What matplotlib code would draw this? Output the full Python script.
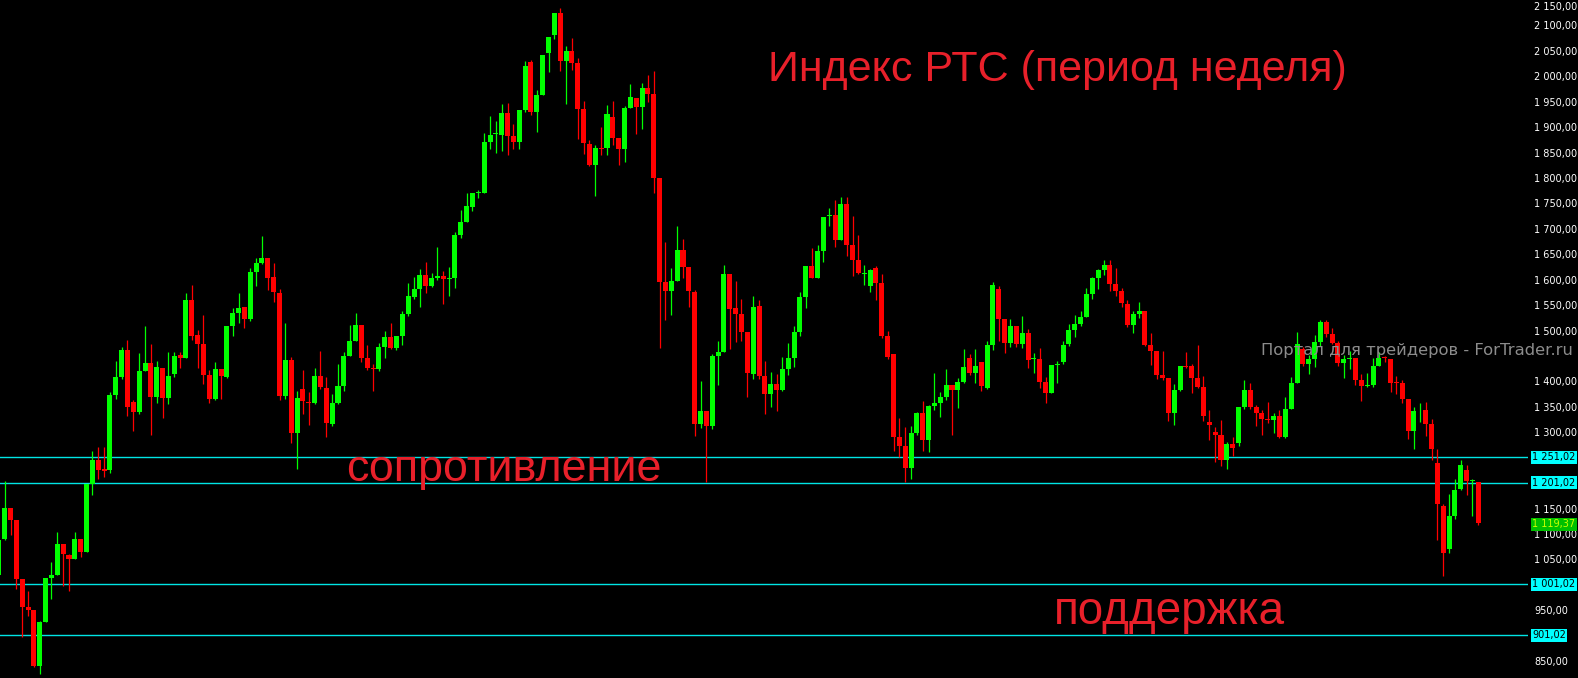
import numpy as np
import matplotlib
matplotlib.use("Agg")
import matplotlib.pyplot as plt

# weekly RTS candles (open, high, low, close)
opens = [1020, 1090, 1151, 1128, 1012, 957, 951, 840, 927, 1014,
         1020, 1081, 1059, 1051, 1090, 1065, 1199, 1246, 1228, 1226,
         1373, 1408, 1462, 1360, 1339, 1421, 1436, 1370, 1427, 1368,
         1414, 1452, 1447, 1560, 1491, 1474, 1413, 1366, 1425, 1409,
         1510, 1535, 1547, 1523, 1616, 1633, 1643, 1605, 1574, 1372,
         1442, 1299, 1385, 1360, 1358, 1411, 1387, 1317, 1358, 1391,
         1451, 1480, 1511, 1447, 1426, 1424, 1468, 1488, 1466, 1490,
         1533, 1566, 1582, 1609, 1588, 1604, 1607, 1602, 1604, 1688,
         1714, 1743, 1771, 1771, 1871, 1886, 1885, 1928, 1883, 1870,
         1934, 2028, 1930, 1963, 2045, 2082, 2124, 2031, 2050, 2026,
         1936, 1867, 1826, 1860, 1860, 1920, 1879, 1857, 1938, 1957,
         1940, 1977, 1965, 1800, 1596, 1577, 1598, 1659, 1625, 1576,
         1317, 1342, 1313, 1450, 1458, 1611, 1545, 1533, 1497, 1415,
         1549, 1411, 1376, 1395, 1383, 1425, 1446, 1497, 1566, 1627,
         1604, 1657, 1725, 1727, 1678, 1749, 1668, 1639, 1612, 1588,
         1623, 1594, 1489, 1454, 1291, 1273, 1229, 1299, 1338, 1284,
         1352, 1358, 1370, 1393, 1384, 1399, 1446, 1417, 1438, 1387,
         1472, 1582, 1523, 1476, 1509, 1474, 1495, 1444, 1444, 1399,
         1377, 1433, 1438, 1474, 1501, 1513, 1527, 1572, 1604, 1619,
         1629, 1592, 1578, 1552, 1511, 1533, 1539, 1472, 1460, 1413,
         1407, 1338, 1383, 1430, 1431, 1407, 1389, 1320, 1301, 1295,
         1246, 1277, 1279, 1350, 1383, 1350, 1338, 1327, 1324, 1332,
         1291, 1346, 1397, 1464, 1434, 1444, 1478, 1517, 1493, 1476,
         1436, 1445, 1446, 1403, 1392, 1393, 1431, 1447, 1444, 1398,
         1397, 1366, 1303, 1343, 1344, 1316, 1240, 1155, 1071, 1136,
         1189, 1226, 1204, 1202, 1119]
highs = [1095, 1204, 1151, 1128, 1012, 988, 951, 929, 1014, 1045,
         1104, 1081, 1061, 1104, 1090, 1199, 1263, 1271, 1271, 1380,
         1440, 1467, 1482, 1364, 1456, 1509, 1474, 1440, 1427, 1458,
         1458, 1458, 1574, 1590, 1501, 1531, 1423, 1438, 1425, 1509,
         1545, 1574, 1547, 1623, 1643, 1686, 1643, 1633, 1582, 1515,
         1448, 1381, 1423, 1379, 1427, 1460, 1409, 1375, 1434, 1458,
         1511, 1535, 1511, 1472, 1434, 1475, 1499, 1515, 1489, 1539,
         1594, 1606, 1621, 1635, 1613, 1665, 1617, 1625, 1694, 1737,
         1771, 1771, 1777, 1889, 1922, 1912, 1946, 1948, 1906, 1934,
         2030, 2032, 1973, 2042, 2077, 2124, 2134, 2060, 2075, 2036,
         1952, 1875, 1865, 1900, 1944, 1952, 1879, 1942, 1985, 1957,
         1987, 2003, 2010, 1800, 1674, 1623, 1706, 1680, 1625, 1580,
         1401, 1342, 1454, 1480, 1629, 1611, 1598, 1562, 1497, 1568,
         1560, 1440, 1419, 1415, 1448, 1476, 1509, 1576, 1627, 1663,
         1668, 1723, 1741, 1757, 1763, 1763, 1725, 1688, 1629, 1621,
         1627, 1611, 1499, 1454, 1328, 1311, 1313, 1340, 1362, 1354,
         1417, 1379, 1425, 1393, 1407, 1464, 1454, 1464, 1438, 1480,
         1596, 1588, 1523, 1523, 1509, 1529, 1503, 1456, 1466, 1409,
         1432, 1440, 1480, 1513, 1531, 1539, 1584, 1606, 1621, 1639,
         1639, 1623, 1584, 1560, 1539, 1556, 1539, 1495, 1460, 1460,
         1407, 1395, 1431, 1458, 1434, 1472, 1411, 1344, 1311, 1324,
         1281, 1291, 1350, 1403, 1397, 1354, 1344, 1360, 1338, 1344,
         1370, 1409, 1497, 1468, 1452, 1491, 1521, 1521, 1505, 1480,
         1452, 1460, 1446, 1415, 1417, 1446, 1458, 1450, 1444, 1411,
         1403, 1366, 1350, 1358, 1360, 1326, 1267, 1159, 1179, 1208,
         1246, 1236, 1208, 1202, 1120]
lows = [1010, 1088, 1098, 992, 898, 939, 838, 824, 927, 972,
        1020, 998, 988, 1051, 1055, 1065, 1177, 1208, 1212, 1220,
        1365, 1405, 1333, 1303, 1337, 1420, 1295, 1358, 1329, 1356,
        1408, 1427, 1447, 1482, 1427, 1396, 1358, 1364, 1366, 1406,
        1490, 1514, 1506, 1518, 1588, 1631, 1579, 1557, 1364, 1366,
        1280, 1227, 1336, 1315, 1356, 1385, 1290, 1313, 1356, 1382,
        1450, 1480, 1439, 1423, 1382, 1420, 1447, 1464, 1461, 1472,
        1529, 1562, 1547, 1574, 1586, 1600, 1553, 1568, 1584, 1682,
        1714, 1736, 1761, 1771, 1857, 1850, 1854, 1846, 1858, 1858,
        1930, 1923, 1891, 1963, 2009, 2074, 2011, 1946, 2013, 1877,
        1848, 1823, 1764, 1846, 1846, 1864, 1825, 1832, 1938, 1887,
        1897, 1950, 1771, 1465, 1520, 1531, 1598, 1604, 1547, 1292,
        1309, 1203, 1307, 1394, 1458, 1463, 1478, 1480, 1370, 1405,
        1405, 1336, 1350, 1342, 1381, 1413, 1429, 1490, 1545, 1604,
        1604, 1635, 1706, 1664, 1678, 1647, 1608, 1611, 1590, 1576,
        1561, 1486, 1445, 1264, 1252, 1203, 1209, 1294, 1264, 1262,
        1343, 1331, 1364, 1294, 1347, 1397, 1413, 1397, 1382, 1385,
        1461, 1480, 1456, 1468, 1468, 1466, 1427, 1417, 1387, 1358,
        1377, 1397, 1434, 1470, 1488, 1509, 1527, 1562, 1582, 1609,
        1578, 1568, 1547, 1508, 1496, 1525, 1470, 1432, 1405, 1403,
        1322, 1315, 1381, 1427, 1377, 1387, 1322, 1285, 1242, 1234,
        1228, 1254, 1273, 1346, 1346, 1313, 1295, 1318, 1299, 1289,
        1289, 1346, 1397, 1431, 1415, 1429, 1470, 1488, 1474, 1431,
        1407, 1425, 1393, 1362, 1389, 1389, 1431, 1438, 1379, 1375,
        1358, 1287, 1267, 1320, 1293, 1246, 1088, 1018, 1063, 1130,
        1187, 1177, 1136, 1118, 1119]
closes = [1088, 1151, 1128, 1012, 957, 951, 840, 927, 1014, 1020,
          1081, 1061, 1051, 1090, 1065, 1199, 1246, 1226, 1224, 1373,
          1408, 1462, 1350, 1339, 1421, 1436, 1370, 1429, 1368, 1411,
          1450, 1447, 1560, 1490, 1474, 1413, 1366, 1425, 1411, 1509,
          1535, 1545, 1522, 1615, 1633, 1643, 1604, 1575, 1372, 1442,
          1299, 1368, 1362, 1358, 1411, 1389, 1319, 1358, 1391, 1450,
          1480, 1511, 1447, 1427, 1424, 1468, 1488, 1466, 1489, 1533,
          1568, 1582, 1609, 1588, 1604, 1607, 1602, 1604, 1688, 1714,
          1745, 1771, 1772, 1871, 1885, 1888, 1928, 1883, 1870, 1934,
          2021, 1930, 1963, 2042, 2077, 2124, 2031, 2050, 2027, 1936,
          1868, 1826, 1859, 1858, 1926, 1879, 1858, 1938, 1959, 1940,
          1977, 1965, 1801, 1596, 1577, 1598, 1659, 1626, 1577, 1317,
          1342, 1313, 1450, 1458, 1611, 1543, 1533, 1498, 1416, 1547,
          1411, 1376, 1395, 1383, 1425, 1446, 1497, 1566, 1627, 1604,
          1657, 1723, 1727, 1678, 1749, 1668, 1639, 1613, 1614, 1619,
          1594, 1490, 1449, 1291, 1274, 1229, 1299, 1338, 1284, 1352,
          1358, 1370, 1393, 1384, 1399, 1429, 1417, 1431, 1392, 1472,
          1590, 1523, 1476, 1509, 1474, 1495, 1442, 1445, 1399, 1377,
          1432, 1435, 1472, 1501, 1513, 1527, 1572, 1604, 1619, 1629,
          1592, 1578, 1554, 1511, 1533, 1539, 1472, 1460, 1413, 1407,
          1338, 1383, 1431, 1429, 1407, 1389, 1332, 1315, 1295, 1246,
          1277, 1269, 1350, 1383, 1350, 1338, 1326, 1325, 1332, 1291,
          1346, 1397, 1474, 1434, 1444, 1478, 1517, 1493, 1476, 1436,
          1444, 1447, 1403, 1391, 1394, 1431, 1446, 1446, 1397, 1397,
          1366, 1303, 1342, 1344, 1316, 1267, 1159, 1063, 1136, 1187,
          1236, 1204, 1206, 1122, 1119.37]

levels = [1251.02, 1201.02, 1001.02, 901.02]
level_labels = ["1 251,02", "1 201,02", "1 001,02", "901,02"]
last_price = 1119.37
# axis ticks; the ones hidden under the level boxes / watermark are left out
tick_values = [850, 950, 1050, 1100, 1150, 1300, 1350, 1400, 1500,
               1550, 1600, 1650, 1700, 1750, 1800, 1850, 1900, 1950, 2000,
               2050, 2100]


def fmt(v):
    return f"{v:,}".replace(",", " ") + ",00"


W, H = 1578, 678
fig = plt.figure(figsize=(W / 100, H / 100), dpi=100, facecolor="black")
ax = fig.add_axes([0, 0, 1528 / W, 1])
ax.set_facecolor("black")

o = np.array(opens, dtype=float)
h = np.array(highs, dtype=float)
l = np.array(lows, dtype=float)
c = np.array(closes, dtype=float)
x = np.arange(len(o))
up = c >= o
colors = np.where(up, "#00ff00", "#ff0000")

ax.vlines(x, l, h, colors=colors, linewidth=0.9, zorder=2)
bottom = np.minimum(o, c)
height = np.maximum(np.abs(c - o), 1.6)
ax.bar(x, height, bottom=bottom, width=0.86, color=colors, linewidth=0, zorder=3)

for lv in levels:
    ax.axhline(lv, color="#00e5e5", linewidth=1.0, zorder=1)

ax.set_xlim(0.2, 261.5)
ax.set_ylim(817, 2150)
for s in ax.spines.values():
    s.set_visible(False)
ax.set_xticks([])
ax.yaxis.tick_right()
ax.set_yticks(tick_values)
ax.set_yticklabels([fmt(v) for v in tick_values])
ax.tick_params(axis="y", colors="white", labelsize=7, length=0, pad=4.5)
ytr = ax.get_yaxis_transform()
ax.text(1.0 + 6 / 1528, 2136, fmt(2150), transform=ytr, color="white",
        fontsize=7, va="center", ha="left", clip_on=False)

# price boxes on the axis
for lv, lab in zip(levels, level_labels):
    ax.text(1.0 + 4 / 1528, lv, lab, transform=ytr, color="black",
            fontsize=7, va="center", ha="left", clip_on=False,
            bbox=dict(boxstyle="square,pad=0.15", fc="#00ffff", ec="none"))
ax.text(1.0 + 4 / 1528, last_price, "1 119,37", transform=ytr,
        color="#c8ff00", fontsize=7, va="center", ha="left", clip_on=False,
        bbox=dict(boxstyle="square,pad=0.15", fc="#00c000", ec="none"))

red_txt = "#e8202a"
fig.text(1057 / W, 1 - 80.5 / H, "Индекс РТС (период неделя)", color=red_txt,
         fontsize=31, family="Liberation Sans", ha="center", va="baseline")
fig.text(504 / W, 1 - 481 / H, "сопротивление", color=red_txt,
         fontsize=32.3, family="Liberation Sans", ha="center", va="baseline")
fig.text(1169 / W, 1 - 624 / H, "поддержка", color=red_txt,
         fontsize=33, family="Liberation Sans", ha="center", va="baseline")
fig.text(1261 / W, 1 - 355 / H, "Портал для трейдеров - ForTrader.ru", color="#8c8c8c",
         fontsize=11.8, family="DejaVu Sans", ha="left", va="baseline")

fig.savefig("out.png", dpi=100, facecolor="black")
